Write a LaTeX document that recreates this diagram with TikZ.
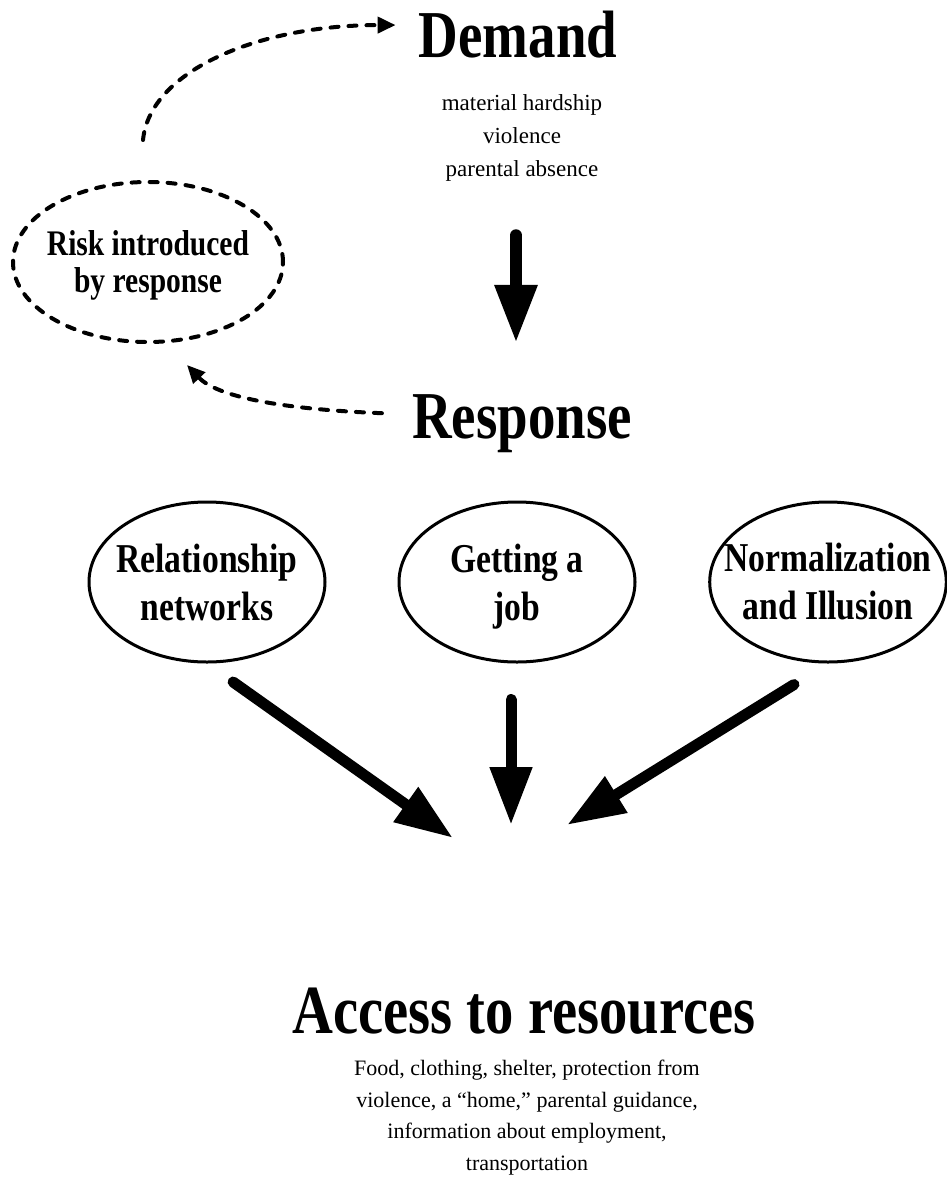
\documentclass[tikz,border=0pt]{standalone}
\usepackage{fontspec}
\setmainfont{Liberation Serif}
\newfontfamily\condfont{Liberation Serif}[FakeStretch=0.82]
\usetikzlibrary{arrows.meta,shapes.geometric}

\tikzset{
  heading/.style={font=\condfont\bfseries\fontsize{67}{67}\selectfont, inner sep=0pt, anchor=base},
  subtext/.style={font=\fontsize{23}{33}\selectfont, align=center, inner sep=0pt, anchor=north},
  branch/.style={draw, ellipse, line width=3pt, minimum width=236pt, minimum height=160pt,
    inner ysep=0pt, inner xsep=-20pt, align=center, font=\condfont\bfseries\fontsize{41}{48}\selectfont},
  riskbox/.style={draw, ellipse, line width=4pt, line cap=round, dash pattern=on 8pt off 10pt,
    minimum width=270pt, minimum height=160pt, inner ysep=0pt, inner xsep=-12pt, align=center,
    font=\condfont\bfseries\fontsize{36}{37}\selectfont},
  bigarrow/.style={line width=12pt, line cap=round, -{Triangle[length=58pt,width=40pt]}},
  dasharrow/.style={line width=4pt, line cap=round, dash pattern=on 8pt off 10pt,
    -{Triangle[length=18pt,width=16pt]}}
}

\begin{document}
\begin{tikzpicture}[x=1pt,y=-1pt]
  \useasboundingbox (0,0) rectangle (947,1180);
  \node[heading] (demand) at (518,58) {Demand};
  \node[subtext] (demandsub) at (522,94) {material hardship\\violence\\parental absence};
  \node[heading] (response) at (522,438) {Response};
  \node[riskbox] (risk) at (148,262) {Risk introduced\\\smash{by response}};
  \node[branch] (relnet) at (207,582) {Relationship\\networks};
  \node[branch] (job) at (517,582) {Getting a\\\smash{job}};
  \node[branch] (norm) at (828,582) {Normalization\\and Illusion};
  \node[heading, font=\condfont\bfseries\fontsize{69}{69}\selectfont] (access) at (524,1033)
    {Access to resources};
  \node[subtext, font=\fontsize{22}{31.5}\selectfont] (accesssub) at (527,1060)
    {Food, clothing, shelter, protection from\\violence, a ``home,'' parental guidance,\\information about employment,\\transportation};

  \draw[bigarrow, shorten <=54pt, shorten >=51pt]
    ([xshift=-6pt]demandsub.south) -- ([xshift=-6pt]response.north);

  \draw[dasharrow] ([xshift=-5pt,yshift=40pt]risk.north)
    .. controls (150,70) and (260,25) .. ([xshift=-23pt,yshift=10pt]demand.west);
  \draw[dasharrow] ([xshift=-30pt,yshift=10pt]response.west)
    .. controls (300,410) and (220,400) .. ([xshift=39pt,yshift=-21pt]risk.south);

  \coordinate (tipL) at (453,838);
  \coordinate (tipM) at (511,825);
  \coordinate (tipR) at (567,825);
  \draw[bigarrow, line width=11pt, shorten <=32pt] (relnet.south) -- (tipL);
  \draw[bigarrow, line width=11pt, shorten <=36pt] (job.south -| tipM) -- (tipM);
  \draw[bigarrow, line width=11pt, shorten <=40pt] (norm.south) -- (tipR);
\end{tikzpicture}
\end{document}
